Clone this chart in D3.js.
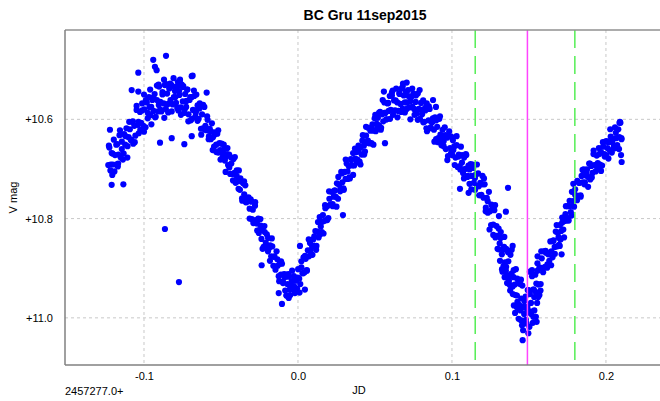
<!DOCTYPE html>
<html>
<head>
<meta charset="utf-8">
<script src="https://cdn.jsdelivr.net/npm/d3@7"></script>
<style>
  html, body { margin: 0; padding: 0; background: #ffffff; }
  svg { display: block; }
  text { font-family: "Liberation Sans", Arial, sans-serif; fill: #000; }
</style>
</head>
<body>
<svg id="chart" width="660" height="401"></svg>
<script>
// BC Gru, V photometry, night of 11 Sep 2015. JD offsets from 2457277.0, V magnitudes.
const firstMaximum = [
  [-0.1232,10.692],[-0.1225,10.657],[-0.1218,10.703],[-0.1210,10.668],[-0.1203,10.691],[-0.1196,10.641],
  [-0.1188,10.672],[-0.1181,10.691],[-0.1174,10.650],[-0.1166,10.671],[-0.1159,10.632],[-0.1151,10.677],
  [-0.1144,10.645],[-0.1137,10.681],[-0.1129,10.630],[-0.1122,10.651],[-0.1114,10.618],[-0.1107,10.654],
  [-0.1100,10.636],[-0.1092,10.620],[-0.1085,10.641],[-0.1078,10.605],[-0.1070,10.649],[-0.1063,10.613],
  [-0.1056,10.633],[-0.1048,10.581],[-0.1041,10.611],[-0.1034,10.628],[-0.1026,10.585],[-0.1019,10.607],
  [-0.1012,10.568],[-0.1004,10.613],[-0.0997,10.580],[-0.0990,10.616],[-0.0982,10.566],[-0.0975,10.587],
  [-0.0968,10.555],[-0.0960,10.592],[-0.0953,10.575],[-0.0946,10.561],[-0.0938,10.583],[-0.0931,10.549],
  [-0.0924,10.595],[-0.0916,10.561],[-0.0909,10.584],[-0.0902,10.534],[-0.0894,10.565],[-0.0887,10.584],
  [-0.0880,10.545],[-0.0872,10.568],[-0.0865,10.531],[-0.0858,10.579],[-0.0850,10.548],[-0.0843,10.586],
  [-0.0836,10.538],[-0.0828,10.561],[-0.0821,10.531],[-0.0814,10.570],[-0.0806,10.555],[-0.0799,10.543],
  [-0.0792,10.567],[-0.0784,10.534],[-0.0777,10.582],[-0.0770,10.551],[-0.0762,10.576],[-0.0755,10.530],
  [-0.0748,10.564],[-0.0740,10.587],[-0.0733,10.549],[-0.0726,10.575],[-0.0718,10.540],[-0.0711,10.590],
  [-0.0704,10.561],[-0.0696,10.602],[-0.0689,10.555],[-0.0682,10.581],[-0.0674,10.553],[-0.0667,10.595],
  [-0.0660,10.582],[-0.0652,10.572],[-0.0645,10.599],[-0.0638,10.568],[-0.0630,10.619],[-0.0623,10.590],
  [-0.0616,10.618],[-0.0608,10.575],[-0.0601,10.613],
  [-0.1228,10.653],[-0.1216,10.691],[-0.1204,10.669],[-0.1192,10.705],[-0.1180,10.651],[-0.1168,10.689],
  [-0.1156,10.622],[-0.1144,10.660],[-0.1132,10.669],[-0.1120,10.634],[-0.1108,10.677],[-0.1096,10.605],
  [-0.1084,10.642],[-0.1072,10.604],[-0.1060,10.646],[-0.1048,10.573],[-0.1036,10.605],[-0.1024,10.621],
  [-0.1012,10.582],[-0.1000,10.625],[-0.0988,10.561],[-0.0976,10.598],[-0.0964,10.575],[-0.0952,10.610],
  [-0.0940,10.556],[-0.0928,10.596],[-0.0916,10.532],[-0.0904,10.571],[-0.0892,10.581],[-0.0880,10.550],
  [-0.0868,10.597],[-0.0856,10.529],[-0.0844,10.569],[-0.0832,10.536],[-0.0820,10.584],[-0.0808,10.517],
  [-0.0796,10.555],[-0.0784,10.577],[-0.0772,10.543],[-0.0760,10.591],[-0.0748,10.535],[-0.0736,10.580],
  [-0.0724,10.563],[-0.0712,10.604],[-0.0700,10.555],[-0.0688,10.599],[-0.0676,10.542],[-0.0664,10.587],
  [-0.0652,10.603],[-0.0640,10.578],[-0.0628,10.631],[-0.0616,10.571],[-0.0604,10.621],
  [-0.1037,10.506],[-0.0940,10.480],[-0.0929,10.494],[-0.0857,10.472],[-0.0918,10.501],[-0.1080,10.541],
  [-0.1037,10.544],[-0.0684,10.512],[-0.0766,10.520],[-0.0593,10.546],[-0.0690,10.513],[-0.0764,10.528],
  [-0.0896,10.647],[-0.0820,10.638],[-0.0738,10.650],[-0.0690,10.634],[-0.1221,10.621],[-0.1206,10.712],
  [-0.1210,10.732],[-0.1134,10.731],[-0.1170,10.695],[-0.1000,10.550],[-0.0960,10.540],[-0.0905,10.530],
  [-0.0870,10.520],[-0.0830,10.528],[-0.0800,10.535],[-0.0780,10.525],[-0.0745,10.533],[-0.0720,10.540],
  [-0.0660,10.550],[-0.0864,10.821],[-0.0773,10.928]
];

const firstDescent = [
  [-0.0594,10.622],[-0.0587,10.601],[-0.0580,10.640],[-0.0573,10.619],[-0.0566,10.640],[-0.0559,10.608],
  [-0.0552,10.636],[-0.0545,10.655],[-0.0538,10.630],[-0.0531,10.651],[-0.0524,10.629],[-0.0517,10.667],
  [-0.0510,10.648],[-0.0503,10.681],[-0.0496,10.649],[-0.0489,10.670],[-0.0482,10.651],[-0.0475,10.683],
  [-0.0468,10.676],[-0.0461,10.670],[-0.0454,10.692],[-0.0447,10.671],[-0.0440,10.710],[-0.0433,10.689],
  [-0.0426,10.710],[-0.0419,10.680],[-0.0412,10.708],[-0.0405,10.728],[-0.0398,10.703],[-0.0391,10.725],
  [-0.0384,10.703],[-0.0377,10.742],[-0.0370,10.725],[-0.0363,10.759],[-0.0356,10.729],[-0.0349,10.751],
  [-0.0342,10.733],[-0.0335,10.767],[-0.0328,10.761],[-0.0321,10.757],[-0.0314,10.780],[-0.0307,10.761],
  [-0.0300,10.801],[-0.0293,10.782],[-0.0286,10.804],[-0.0279,10.774],[-0.0272,10.803],[-0.0265,10.824],
  [-0.0258,10.800],[-0.0251,10.823],[-0.0244,10.801],[-0.0237,10.841],[-0.0230,10.823],[-0.0223,10.857],
  [-0.0216,10.827],[-0.0209,10.849],[-0.0202,10.832],[-0.0195,10.866],[-0.0188,10.860],[-0.0181,10.854],
  [-0.0174,10.876],[-0.0167,10.856],[-0.0160,10.895],[-0.0153,10.876],[-0.0146,10.897],[-0.0139,10.866],
  [-0.0132,10.895],[-0.0125,10.916],[-0.0118,10.891],[-0.0111,10.913],[-0.0104,10.891],[-0.0097,10.930],
  [-0.0090,10.912],[-0.0083,10.945],[-0.0076,10.913],[-0.0069,10.932],[-0.0062,10.912],[-0.0055,10.943],
  [-0.0048,10.934],[-0.0041,10.926],
  [-0.0590,10.594],[-0.0578,10.634],[-0.0566,10.624],[-0.0554,10.662],[-0.0542,10.626],[-0.0530,10.666],
  [-0.0518,10.622],[-0.0506,10.662],[-0.0494,10.679],[-0.0482,10.661],[-0.0470,10.706],[-0.0458,10.658],
  [-0.0446,10.697],[-0.0434,10.677],[-0.0422,10.723],[-0.0410,10.676],[-0.0398,10.714],[-0.0386,10.740],
  [-0.0374,10.719],[-0.0362,10.764],[-0.0350,10.725],[-0.0338,10.767],[-0.0326,10.759],[-0.0314,10.800],
  [-0.0302,10.766],[-0.0290,10.809],[-0.0278,10.767],[-0.0266,10.810],[-0.0254,10.829],[-0.0242,10.814],
  [-0.0230,10.861],[-0.0218,10.815],[-0.0206,10.857],[-0.0194,10.839],[-0.0182,10.885],[-0.0170,10.840],
  [-0.0158,10.877],[-0.0146,10.903],[-0.0134,10.882],[-0.0122,10.926],[-0.0110,10.886],[-0.0098,10.927],
  [-0.0086,10.918],[-0.0074,10.955],[-0.0062,10.917],[-0.0050,10.954],
  [-0.0104,10.972],[-0.0075,10.955],[-0.0060,10.960],[-0.0125,10.950],[-0.0236,10.894]
];

const firstRise = [
  [-0.0034,10.942],[-0.0027,10.916],[-0.0020,10.950],[-0.0013,10.925],[-0.0006,10.941],[0.0001,10.902],
  [0.0008,10.921],[0.0015,10.932],[0.0022,10.898],[0.0029,10.910],[0.0036,10.878],[0.0043,10.908],
  [0.0050,10.881],[0.0057,10.904],[0.0064,10.864],[0.0071,10.876],[0.0078,10.849],[0.0085,10.872],
  [0.0092,10.856],[0.0099,10.842],[0.0106,10.855],[0.0113,10.825],[0.0120,10.855],[0.0127,10.826],
  [0.0134,10.838],[0.0141,10.797],[0.0148,10.816],[0.0155,10.827],[0.0162,10.793],[0.0169,10.805],
  [0.0176,10.773],[0.0183,10.803],[0.0190,10.775],[0.0197,10.799],[0.0204,10.760],[0.0211,10.772],
  [0.0218,10.746],[0.0225,10.771],[0.0232,10.756],[0.0239,10.743],[0.0246,10.756],[0.0253,10.729],
  [0.0260,10.760],[0.0267,10.732],[0.0274,10.745],[0.0281,10.706],[0.0288,10.727],[0.0295,10.739],
  [0.0302,10.706],[0.0309,10.720],[0.0316,10.689],[0.0323,10.720],[0.0330,10.694],[0.0337,10.719],
  [0.0344,10.680],[0.0351,10.693],[0.0358,10.668],[0.0365,10.693],[0.0372,10.679],[0.0379,10.666],
  [0.0386,10.681],[0.0393,10.653],[0.0400,10.685],[0.0407,10.657],[0.0414,10.671],[0.0421,10.632],
  [0.0428,10.653],[0.0435,10.665],[0.0442,10.633],[0.0449,10.647],[0.0456,10.617],[0.0463,10.648],
  [0.0470,10.623],[0.0477,10.648],[0.0484,10.610],[0.0491,10.623],[0.0498,10.598],[0.0505,10.624],
  [0.0512,10.609],[0.0519,10.597],[0.0526,10.612],[0.0533,10.585],[0.0540,10.617],[0.0547,10.590],
  [0.0554,10.604],[0.0561,10.566],[0.0568,10.587],[0.0575,10.600],[0.0582,10.568],[0.0589,10.583],
  [0.0596,10.553],
  [-0.0038,10.905],[-0.0026,10.936],[-0.0014,10.945],[-0.0002,10.919],[0.0010,10.949],[0.0022,10.886],
  [0.0034,10.910],[0.0046,10.875],[0.0058,10.905],[0.0070,10.842],[0.0082,10.864],[0.0094,10.873],
  [0.0106,10.836],[0.0118,10.863],[0.0130,10.807],[0.0142,10.832],[0.0154,10.807],[0.0166,10.830],
  [0.0178,10.779],[0.0190,10.803],[0.0202,10.745],[0.0214,10.772],[0.0226,10.775],[0.0238,10.744],
  [0.0250,10.776],[0.0262,10.716],[0.0274,10.742],[0.0286,10.709],[0.0298,10.742],[0.0310,10.681],
  [0.0322,10.705],[0.0334,10.717],[0.0346,10.682],[0.0358,10.712],[0.0370,10.659],[0.0382,10.687],
  [0.0394,10.665],[0.0406,10.691],[0.0418,10.643],[0.0430,10.671],[0.0442,10.615],[0.0454,10.643],
  [0.0466,10.648],[0.0478,10.618],[0.0490,10.651],[0.0502,10.591],[0.0514,10.618],[0.0526,10.587],
  [0.0538,10.621],[0.0550,10.561],[0.0562,10.587],[0.0574,10.600],[0.0586,10.567],[0.0598,10.599],
  [0.0045,10.943],[0.0013,10.855],[0.0292,10.793],[0.0565,10.648]
];

const secondMaximum = [
  [0.0603,10.581],[0.0610,10.552],[0.0617,10.591],[0.0624,10.562],[0.0631,10.582],[0.0638,10.538],
  [0.0645,10.566],[0.0652,10.583],[0.0659,10.549],[0.0666,10.569],[0.0673,10.538],[0.0680,10.579],
  [0.0687,10.552],[0.0694,10.586],[0.0701,10.544],[0.0708,10.566],[0.0715,10.541],[0.0722,10.576],
  [0.0729,10.564],[0.0736,10.555],[0.0743,10.575],[0.0750,10.548],[0.0757,10.591],[0.0764,10.565],
  [0.0771,10.588],[0.0778,10.548],[0.0785,10.579],[0.0792,10.599],[0.0799,10.567],[0.0806,10.590],
  [0.0813,10.562],[0.0820,10.605],[0.0827,10.582],[0.0834,10.618],[0.0841,10.579],[0.0848,10.602],
  [0.0855,10.579],[0.0862,10.616],[0.0869,10.606],[0.0876,10.598],[0.0883,10.621],[0.0890,10.596],
  [0.0897,10.640],[0.0904,10.615],[0.0911,10.638],[0.0918,10.599],[0.0925,10.631],[0.0932,10.652],
  [0.0939,10.621],[0.0946,10.644],[0.0953,10.616],[0.0960,10.660],[0.0967,10.637],[0.0974,10.674],
  [0.0981,10.634],[0.0988,10.658],[0.0995,10.635],[0.1002,10.672],[0.1009,10.662],[0.1016,10.654],
  [0.1023,10.677],[0.1030,10.652],[0.1037,10.696],[0.1044,10.671],[0.1051,10.694],[0.1058,10.655],
  [0.1065,10.687],[0.1072,10.708],[0.1079,10.677],[0.1086,10.700],[0.1093,10.672],[0.1100,10.716],
  [0.1107,10.693],[0.1114,10.730],[0.1121,10.690],[0.1128,10.714],[0.1135,10.691],[0.1142,10.728],
  [0.1149,10.718],[0.1156,10.711],[0.1163,10.734],[0.1170,10.709],[0.1177,10.753],[0.1184,10.728],
  [0.1191,10.752],[0.1198,10.714],
  [0.0610,10.546],[0.0622,10.583],[0.0634,10.562],[0.0646,10.596],[0.0658,10.547],[0.0670,10.585],
  [0.0682,10.528],[0.0694,10.566],[0.0706,10.579],[0.0718,10.553],[0.0730,10.600],[0.0742,10.538],
  [0.0754,10.579],[0.0766,10.552],[0.0778,10.601],[0.0790,10.541],[0.0802,10.581],[0.0814,10.606],
  [0.0826,10.577],[0.0838,10.624],[0.0850,10.574],[0.0862,10.618],[0.0874,10.605],[0.0886,10.645],
  [0.0898,10.602],[0.0910,10.646],[0.0922,10.594],[0.0934,10.638],[0.0946,10.654],[0.0958,10.632],
  [0.0970,10.682],[0.0982,10.624],[0.0994,10.668],[0.1006,10.642],[0.1018,10.692],[0.1030,10.634],
  [0.1042,10.675],[0.1054,10.701],[0.1066,10.672],[0.1078,10.719],[0.1090,10.670],[0.1102,10.714],
  [0.1114,10.701],[0.1126,10.741],[0.1138,10.698],[0.1150,10.742],[0.1162,10.691],[0.1174,10.735],
  [0.1186,10.753],[0.1198,10.731],
  [0.0706,10.526],[0.0680,10.534],[0.0558,10.544],[0.0615,10.542],[0.0836,10.568],[0.0877,10.561],
  [0.0896,10.575],[0.1052,10.740],[0.1108,10.748]
];

const secondMinimum = [
  [0.1205,10.758],[0.1212,10.731],[0.1219,10.785],[0.1226,10.758],[0.1233,10.788],[0.1240,10.746],
  [0.1247,10.785],[0.1254,10.813],[0.1261,10.781],[0.1268,10.812],[0.1275,10.783],[0.1282,10.838],
  [0.1289,10.815],[0.1296,10.861],[0.1303,10.820],[0.1310,10.850],[0.1317,10.827],[0.1324,10.872],
  [0.1331,10.863],[0.1338,10.857],[0.1345,10.888],[0.1352,10.861],[0.1359,10.914],[0.1366,10.886],
  [0.1373,10.916],[0.1380,10.873],[0.1387,10.911],[0.1394,10.937],[0.1401,10.904],[0.1408,10.933],
  [0.1415,10.902],[0.1422,10.955],[0.1429,10.930],[0.1436,10.974],[0.1443,10.932],[0.1450,10.961],
  [0.1457,10.935],[0.1464,10.977],[0.1471,10.966],[0.1478,10.957],[0.1485,10.981],[0.1492,10.944],
  [0.1499,10.989],[0.1506,10.952],[0.1513,10.970],[0.1520,10.916],[0.1527,10.943],[0.1534,10.958],
  [0.1541,10.913],[0.1548,10.931],[0.1555,10.890],[0.1562,10.933],[0.1569,10.898],[0.1576,10.932],
  [0.1583,10.880],[0.1590,10.900],[0.1597,10.866],
  [0.1208,10.719],[0.1220,10.778],[0.1232,10.765],[0.1244,10.822],[0.1256,10.772],[0.1268,10.833],
  [0.1280,10.773],[0.1292,10.835],[0.1304,10.862],[0.1316,10.839],[0.1328,10.907],[0.1340,10.837],
  [0.1352,10.897],[0.1364,10.868],[0.1376,10.934],[0.1388,10.863],[0.1400,10.918],[0.1412,10.954],
  [0.1424,10.921],[0.1436,10.982],[0.1448,10.923],[0.1460,10.979],[0.1472,10.963],[0.1484,11.011],
  [0.1496,10.944],[0.1508,10.987],[0.1520,10.904],[0.1532,10.943],[0.1544,10.948],[0.1556,10.905],
  [0.1568,10.954],[0.1580,10.866],[0.1592,10.908],
  [0.1312,10.885],[0.1325,10.902],[0.1335,10.895],[0.1342,10.918],[0.1350,10.905],[0.1358,10.930],
  [0.1370,10.925],[0.1378,10.945],[0.1385,10.935],[0.1395,10.952],[0.1402,10.975],[0.1410,10.990],
  [0.1425,10.968],[0.1433,11.002],[0.1445,10.985],[0.1455,11.015],[0.1469,10.992],[0.1480,11.004],
  [0.1490,10.978],[0.1503,11.018],[0.1515,10.992],[0.1525,11.010],[0.1535,10.985],[0.1545,10.998],
  [0.1553,10.970],[0.1560,10.958],[0.1575,10.945],
  [0.1459,11.045],[0.1462,11.025],[0.1448,11.005],[0.1496,11.031],[0.1474,11.011],[0.1550,11.008],
  [0.1528,10.998],[0.1420,10.978],[0.1364,10.738],[0.1350,10.786],[0.1394,10.855],[0.1305,10.795],
  [0.1556,10.876],[0.1506,10.907],[0.1570,10.900]
];

const secondRise = [
  [0.1604,10.897],[0.1611,10.869],[0.1618,10.899],[0.1625,10.872],[0.1632,10.885],[0.1639,10.846],
  [0.1646,10.866],[0.1653,10.878],[0.1660,10.844],[0.1667,10.857],[0.1674,10.826],[0.1681,10.856],
  [0.1688,10.829],[0.1695,10.853],[0.1702,10.813],[0.1709,10.825],[0.1716,10.798],[0.1723,10.822],
  [0.1730,10.805],[0.1737,10.791],[0.1744,10.804],[0.1751,10.775],[0.1758,10.804],[0.1765,10.775],
  [0.1772,10.787],[0.1779,10.746],[0.1786,10.765],[0.1793,10.776],[0.1800,10.741],[0.1807,10.755],
  [0.1814,10.724],[0.1821,10.754],[0.1828,10.728],[0.1835,10.753],[0.1842,10.714],[0.1849,10.727],
  [0.1856,10.701],[0.1863,10.727],[0.1870,10.713],[0.1877,10.701],[0.1884,10.716],[0.1891,10.689],
  [0.1898,10.721],[0.1905,10.694],[0.1912,10.708],[0.1919,10.670],[0.1926,10.692],[0.1933,10.705],
  [0.1940,10.673],[0.1947,10.688],[0.1954,10.658],[0.1961,10.691],[0.1968,10.666],[0.1975,10.693],
  [0.1982,10.655],[0.1989,10.670],[0.1996,10.645],[0.2003,10.672],[0.2010,10.658],[0.2017,10.646],
  [0.2024,10.662],[0.2031,10.635],[0.2038,10.667],[0.2045,10.640],[0.2052,10.654],[0.2059,10.616],
  [0.2066,10.638],[0.2073,10.652],[0.2080,10.620],[0.2087,10.636],[0.2094,10.607],[0.2101,10.640],
  [0.1608,10.865],[0.1620,10.892],[0.1632,10.869],[0.1644,10.894],[0.1656,10.845],[0.1668,10.871],
  [0.1680,10.813],[0.1692,10.838],[0.1704,10.841],[0.1716,10.808],[0.1728,10.838],[0.1740,10.775],
  [0.1752,10.799],[0.1764,10.764],[0.1776,10.794],[0.1788,10.730],[0.1800,10.752],[0.1812,10.763],
  [0.1824,10.728],[0.1836,10.756],[0.1848,10.702],[0.1860,10.731],[0.1872,10.709],[0.1884,10.736],
  [0.1896,10.689],[0.1908,10.717],[0.1920,10.663],[0.1932,10.692],[0.1944,10.698],[0.1956,10.670],
  [0.1968,10.704],[0.1980,10.646],[0.1992,10.675],[0.2004,10.644],[0.2016,10.679],[0.2028,10.620],
  [0.2040,10.646],[0.2052,10.659],[0.2064,10.627],[0.2076,10.658],[0.2088,10.607],[0.2100,10.638],
  [0.2091,10.605],[0.2098,10.672],[0.2102,10.686],[0.2085,10.660],[0.1700,10.855],[0.1712,10.872],
  [0.1705,10.842]
];

// Axis ticks and reference lines
const xTicks = [-0.1, 0.0, 0.1, 0.2];
const yTicks = [10.6, 10.8, 11.0];
const windowEdges = [0.1151, 0.1798];   // green dashed lines
const minimumTime = [0.149];            // magenta line

const title = "BC Gru 11sep2015";
const xLabel = "JD";
const yLabel = "V mag";
const jdBase = "2457277.0+";

const points = [].concat(firstMaximum, firstDescent, firstRise, secondMaximum, secondMinimum, secondRise);

const plot = { left: 65, right: 660, top: 30, bottom: 365 };
const svg = d3.select("#chart");

const x = d3.scaleLinear().domain([-0.1513, 0.2351]).range([plot.left, plot.right]);
const y = d3.scaleLinear().domain([10.42, 11.095]).range([plot.top, plot.bottom]);

svg.append("rect").attr("width", 660).attr("height", 401).attr("fill", "#ffffff");

// grid
const grid = svg.append("g");
grid.selectAll(".vg").data(xTicks).join("line")
  .attr("x1", d => x(d)).attr("x2", d => x(d))
  .attr("y1", plot.top).attr("y2", plot.bottom)
  .attr("stroke", "#c8c8c8").attr("stroke-width", 1).attr("stroke-dasharray", "3,3");
grid.selectAll(".hg").data(yTicks).join("line")
  .attr("x1", plot.left).attr("x2", plot.right)
  .attr("y1", d => y(d)).attr("y2", d => y(d))
  .attr("stroke", "#c8c8c8").attr("stroke-width", 1).attr("stroke-dasharray", "3,3");

// observations
svg.append("g").selectAll("circle").data(points).join("circle")
  .attr("cx", d => x(d[0])).attr("cy", d => y(d[1]))
  .attr("r", 3.1).attr("fill", "#0000ff");

// reference lines
svg.append("g").selectAll("line").data(windowEdges).join("line")
  .attr("x1", d => x(d)).attr("x2", d => x(d))
  .attr("y1", plot.top).attr("y2", plot.bottom)
  .attr("stroke", "#55ee55").attr("stroke-width", 1.5).attr("stroke-dasharray", "18,8");
svg.append("g").selectAll("line").data(minimumTime).join("line")
  .attr("x1", d => x(d)).attr("x2", d => x(d))
  .attr("y1", plot.top).attr("y2", plot.bottom)
  .attr("stroke", "#ff44ff").attr("stroke-width", 1.5);

// axes
const yAxis = d3.axisLeft(y).tickValues(yTicks).tickSize(0).tickPadding(12)
  .tickFormat(d => "+" + d.toFixed(1));
const xAxis = d3.axisBottom(x).tickValues(xTicks).tickSize(0).tickPadding(7)
  .tickFormat(d => d.toFixed(1));

const gy = svg.append("g").attr("transform", `translate(${plot.left},0)`).call(yAxis);
const gx = svg.append("g").attr("transform", `translate(0,${plot.bottom})`).call(xAxis);
[gx, gy].forEach(g => {
  g.select(".domain").remove();
  g.selectAll("text").attr("font-size", 11).attr("font-family", "Liberation Sans, Arial, sans-serif").attr("fill", "#000");
});

// frame
svg.append("line").attr("x1", plot.left).attr("x2", 661).attr("y1", plot.top).attr("y2", plot.top)
  .attr("stroke", "#909090").attr("stroke-width", 1.5);
svg.append("line").attr("x1", plot.left).attr("x2", plot.left).attr("y1", plot.top).attr("y2", plot.bottom)
  .attr("stroke", "#808080").attr("stroke-width", 1.5);
svg.append("line").attr("x1", plot.left).attr("x2", 661).attr("y1", plot.bottom).attr("y2", plot.bottom)
  .attr("stroke", "#808080").attr("stroke-width", 1.5);

// labels
svg.append("text").attr("x", 365).attr("y", 20).attr("text-anchor", "middle")
  .attr("font-size", 14).attr("font-weight", "bold").text(title);
svg.append("text").attr("x", 359).attr("y", 394).attr("text-anchor", "middle")
  .attr("font-size", 11).text(xLabel);
svg.append("text").attr("x", plot.left).attr("y", 395).attr("font-size", 11).text(jdBase);
svg.append("text").attr("transform", `translate(17,${(plot.top + plot.bottom) / 2}) rotate(-90)`)
  .attr("text-anchor", "middle").attr("font-size", 11).text(yLabel);
</script>
</body>
</html>
